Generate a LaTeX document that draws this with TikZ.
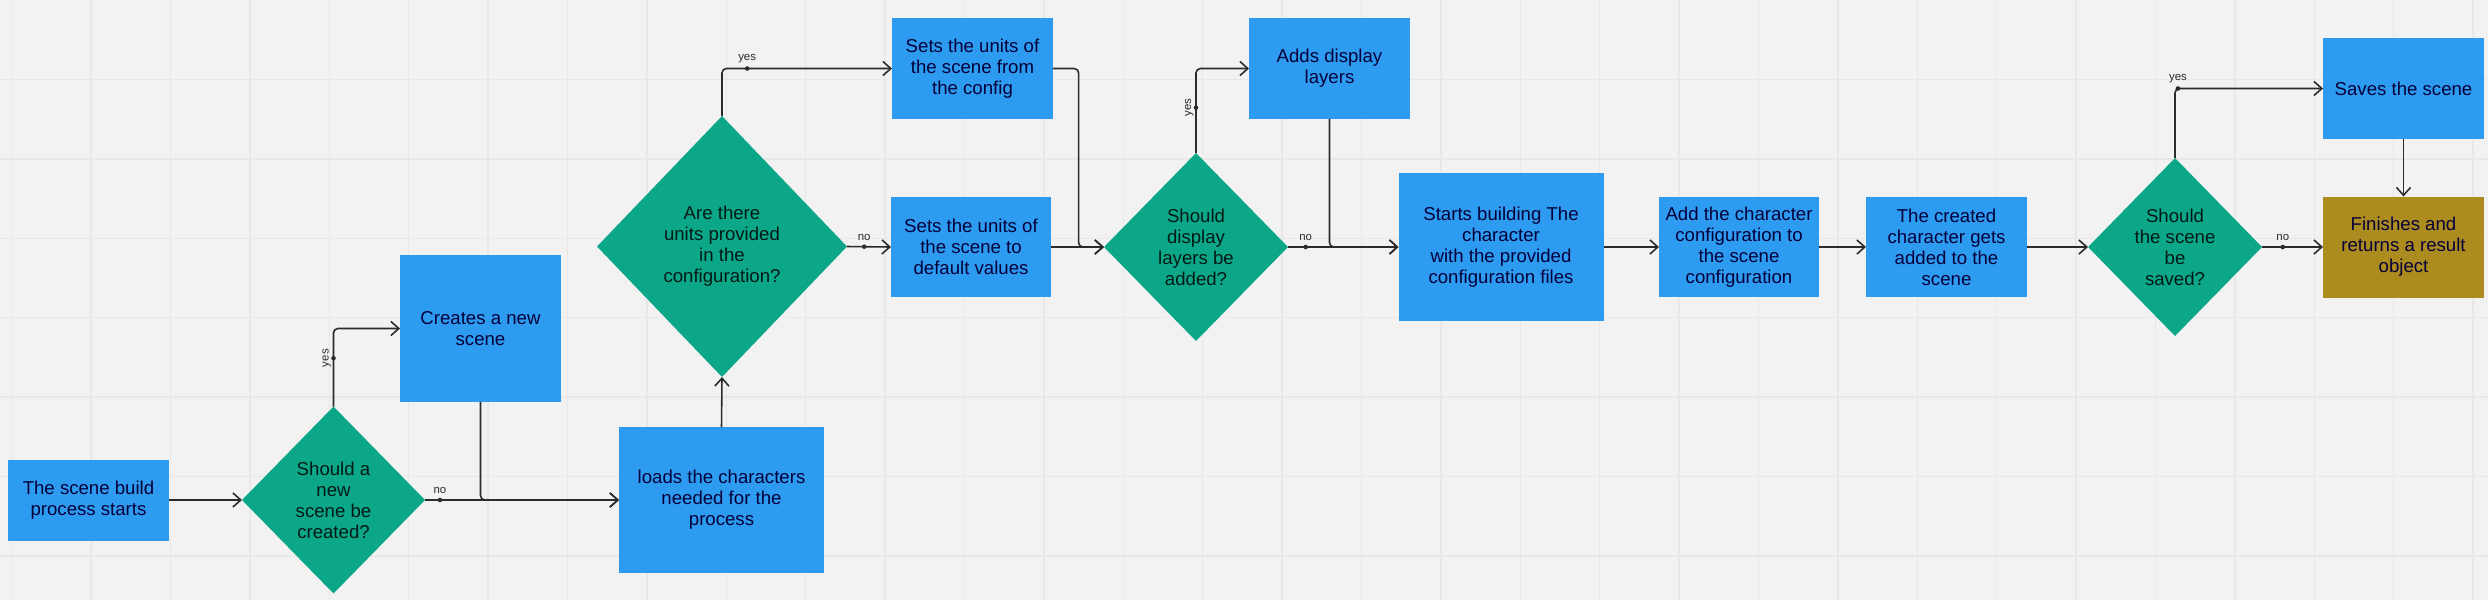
\documentclass[tikz,border=0pt]{standalone}
\usepackage{fontspec}
\setmainfont{Liberation Sans}
\usetikzlibrary{shapes.geometric,arrows.meta}
\definecolor{fond}{HTML}{F2F2F2}
\definecolor{grille}{HTML}{E8E8E8}
\definecolor{bleu}{HTML}{2D9BF0}
\definecolor{vert}{HTML}{0CA789}
\definecolor{ocre}{HTML}{AC8B1F}
\definecolor{encre}{HTML}{050038}
\definecolor{trait}{HTML}{2B2B2B}
\begin{document}
\begin{tikzpicture}[x=0.02cm,y=-0.02cm,
  boite/.style={rectangle,fill=bleu,text=encre,align=center,inner sep=0pt,outer sep=0pt,
    minimum width=3.22cm,minimum height=2.02cm,font=\fontsize{10.6}{12}\selectfont},
  losange/.style={diamond,fill=vert,text=black!85!vert,align=center,inner sep=0pt,outer sep=0pt,
    font=\fontsize{10.6}{12}\selectfont},
  fleche/.style={draw=trait,line width=0.9pt,rounded corners=2.5pt,-{Straight Barb[length=4.5pt,width=8pt]}},
  point/.style={circle,fill=trait,inner sep=0pt,minimum size=2.6pt},
  etiq/.style={font=\fontsize{6.5}{7}\selectfont,text=trait,inner sep=1pt}]
\useasboundingbox (0,0) rectangle (2488,600);
% fond et grille
\fill[fond] (0,0) rectangle (2488,600);
\foreach \i in {0,...,31} {\draw[grille,line width=0.8pt] ({11.6+79.4*\i},0) -- ({11.6+79.4*\i},600);}
\foreach \j in {1,...,7} {\draw[grille,line width=0.8pt] (0,{79.4*\j}) -- (2488,{79.4*\j});}

% les etapes
\node[boite,minimum height=1.62cm] (start) at (88.5,500) {The scene build\\process starts};
\node[losange,minimum width=3.66cm,minimum height=3.74cm] (newscene) at (333.5,500) {Should a\\new\\scene be\\created?};
\node[boite,minimum height=2.94cm] (create) at (480.5,328.5) {Creates a new\\scene};
\node[boite,minimum width=4.1cm,minimum height=2.92cm] (load) at (721.5,500) {loads the characters\\needed for the\\process};
\node[losange,minimum width=5cm,minimum height=5.22cm] (units) at (722,246.5) {Are there\\units provided\\in the\\configuration?};
\node[boite] (fromcfg) at (972.5,68.5) {Sets the units of\\the scene from\\the config};
\node[boite,minimum width=3.2cm,minimum height=2cm] (default) at (971,247) {Sets the units of\\the scene to\\default values};
\node[losange,minimum width=3.68cm,minimum height=3.76cm] (layers) at (1196,247) {Should\\display\\layers be\\added?};
\node[boite] (adds) at (1329.5,68.5) {Adds display\\layers};
\node[boite,minimum width=4.1cm,minimum height=2.96cm] (build) at (1501,247) {Starts building The\\character\\with the provided\\configuration files};
\node[boite,minimum width=3.2cm,minimum height=2cm] (addcfg) at (1739,247) {Add the character\\configuration to\\the scene\\configuration};
\node[boite,minimum height=2cm] (created) at (1946.5,247) {The created\\character gets\\added to the\\scene};
\node[losange,minimum width=3.48cm,minimum height=3.56cm] (save) at (2175,247) {Should\\the scene\\be\\saved?};
\node[boite] (saves) at (2403.5,88.5) {Saves the scene};
\node[boite,fill=ocre] (finish) at (2403.5,247) {Finishes and\\returns a result\\object};

% les fleches
\draw[fleche] (start) -- (newscene);
\draw[fleche] (newscene.north) |- (create.west) node[pos=0.31,point]{} node[pos=0.31,etiq,rotate=90,anchor=south]{yes};
\draw[fleche] (newscene.east) -- (load.west) node[pos=0.077,point]{} node[pos=0.077,etiq,above=2pt]{no};
\draw[fleche] (create.south) |- (load.west);
\draw[fleche] (load.north) -- (units.south);
\draw[fleche] (units.north) |- (fromcfg.west) node[pos=0.574,point]{} node[pos=0.574,etiq,above=2pt]{yes};
\draw[fleche] (units.east) -- (default.west) node[pos=0.39,point]{} node[pos=0.39,etiq,above=2pt]{no};
\draw[fleche] (fromcfg.east) -- ++(25.6,0) |- (layers.west);
\draw[fleche] (default.east) -- (layers.west);
\draw[fleche] (layers.north) |- (adds.west) node[pos=0.268,point]{} node[pos=0.268,etiq,rotate=90,anchor=south]{yes};
\draw[fleche] (layers.east) -- (build.west) node[pos=0.16,point]{} node[pos=0.16,etiq,above=2pt]{no};
\draw[fleche] (adds.south) |- (build.west);
\draw[fleche] (build) -- (addcfg);
\draw[fleche] (addcfg) -- (created);
\draw[fleche] (created) -- (save);
\draw[fleche] (save.north) |- (saves.west) node[pos=0.51,point]{} node[pos=0.51,etiq,above=2pt]{yes};
\draw[fleche] (save.east) -- (finish.west) node[pos=0.34,point]{} node[pos=0.34,etiq,above=2pt]{no};
\draw[fleche] (saves) -- (finish);

\end{tikzpicture}
\end{document}
